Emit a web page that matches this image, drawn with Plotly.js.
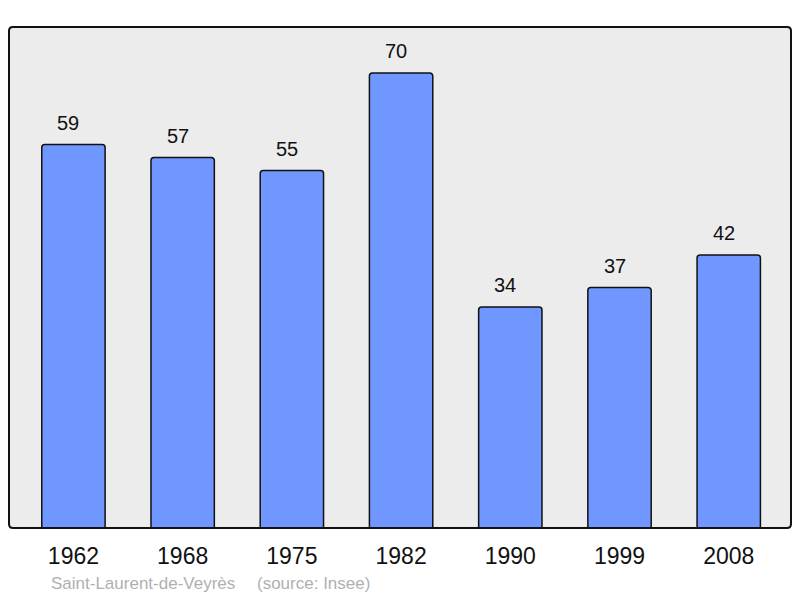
<!DOCTYPE html>
<html>
<head>
<meta charset="utf-8">
<script src="https://cdn.plot.ly/plotly-3.0.1.min.js"></script>
<style>html,body{margin:0;padding:0;background:#fff;}#chart{width:800px;height:598px;}</style>
</head>
<body>
<div id="chart"></div>
<script>
const years = ["1962", "1968", "1975", "1982", "1990", "1999", "2008"];
const population = [59, 57, 55, 70, 34, 37, 42];
const placeName = "Saint-Laurent-de-Veyrès";
const sourceName = "(source: Insee)";

const W = 800, H = 598;
const margin = {l: 9, r: 9, t: 27, b: 70, pad: 0};
const pw = W - margin.l - margin.r, ph = H - margin.t - margin.b;
const rx = 4 / pw, ry = 4 / ph;
const framePath = `M ${rx},0 L ${1 - rx},0 Q 1,0 1,${ry} L 1,${1 - ry} Q 1,1 ${1 - rx},1 L ${rx},1 Q 0,1 0,${1 - ry} L 0,${ry} Q 0,0 ${rx},0 Z`;
const FONT = "Liberation Sans, Arial, sans-serif";

const trace = {
  type: "bar",
  x: years,
  y: population,
  width: 0.58,
  marker: {color: "#7097ff", line: {color: "#111", width: 1.5}, cornerradius: 3},
  hoverinfo: "none"
};

const labelAnns = years.map((yr, i) => ({
  x: i, y: population[i], xref: "x", yref: "y",
  text: String(population[i]), showarrow: false,
  yanchor: "middle", yshift: 22, xshift: -5,
  font: {family: FONT, size: 20, color: "#111"}
}));

const layout = {
  width: W, height: H,
  margin: margin,
  paper_bgcolor: "#ffffff",
  plot_bgcolor: "#ececec",
  showlegend: false,
  xaxis: {
    type: "category", range: [-0.59, 6.57],
    showgrid: false, zeroline: false, showline: false, ticks: "",
    tickfont: {family: FONT, size: 23, color: "#111"},
    ticklabelstandoff: 12, fixedrange: true
  },
  yaxis: {
    range: [0, 77.08], showgrid: false, zeroline: false, showline: false,
    showticklabels: false, ticks: "", fixedrange: true
  },
  shapes: [{
    type: "path", xref: "paper", yref: "paper", path: framePath,
    line: {color: "#111", width: 2}, fillcolor: "rgba(0,0,0,0)", layer: "above"
  }],
  annotations: labelAnns.concat([
    {
      xref: "paper", yref: "paper", x: (49 - margin.l) / pw, y: -55 / ph,
      xanchor: "left", yanchor: "middle", showarrow: false,
      text: placeName,
      font: {family: FONT, size: 17, color: "#b0b0b0"}
    },
    {
      xref: "paper", yref: "paper", x: (255 - margin.l) / pw, y: -55 / ph,
      xanchor: "left", yanchor: "middle", showarrow: false,
      text: sourceName,
      font: {family: FONT, size: 17, color: "#b0b0b0"}
    }
  ])
};

Plotly.newPlot("chart", [trace], layout, {displayModeBar: false, staticPlot: true});
</script>
</body>
</html>
